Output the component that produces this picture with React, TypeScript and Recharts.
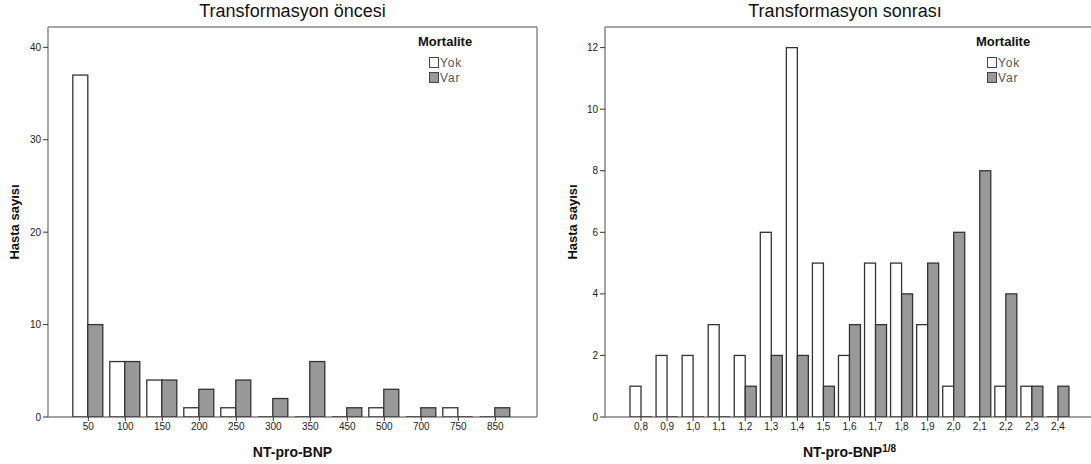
import React from "react";
import { Bar, BarChart, Legend, XAxis, YAxis } from "recharts";

const leftCategories = ["50", "100", "150", "200", "250", "300", "350", "450", "500", "700", "750", "850"];
const leftYok = [37, 6, 4, 1, 1, 0, 0, 0, 1, 0, 1, 0];
const leftVar = [10, 6, 4, 3, 4, 2, 6, 1, 3, 1, 0, 1];
const leftTicks = [0, 10, 20, 30, 40];

const rightCategories = ["0,8", "0,9", "1,0", "1,1", "1,2", "1,3", "1,4", "1,5", "1,6", "1,7", "1,8", "1,9", "2,0", "2,1", "2,2", "2,3", "2,4"];
const rightYok = [1, 2, 2, 3, 2, 6, 12, 5, 2, 5, 5, 3, 1, 0, 1, 1, 0];
const rightVar = [0, 0, 0, 0, 1, 2, 2, 1, 3, 3, 4, 5, 6, 8, 4, 1, 1];
const rightTicks = [0, 2, 4, 6, 8, 10, 12];

const groups = ["Yok", "Var"];
const groupColors = ["#ffffff", "#999999"];

const FONT = "'Liberation Sans', Arial, sans-serif";
const PLOT_W = 489;

function toRows(cats: string[], yok: number[], vr: number[]) {
  return cats.map((c, i) => ({ cat: c, Yok: yok[i], Var: vr[i] }));
}

// zero-height bars still show as a short dark line on the axis
function BarShape(props: any) {
  const { x, y, width, height, fill } = props;
  if (!height) {
    return <line x1={x} x2={x + width} y1={y} y2={y} stroke="#333" strokeWidth={1.5} />;
  }
  return <rect x={x} y={y} width={width} height={height} fill={fill} stroke="#333" strokeWidth={1.3} />;
}

function LegendBox() {
  return (
    <div style={{ fontFamily: FONT }}>
      <div style={{ fontWeight: "bold", fontSize: 13, color: "#111", lineHeight: "16px" }}>Mortalite</div>
      <div style={{ marginLeft: 11, marginTop: 5 }}>
        {groups.map((g, i) => (
          <div key={g} style={{ display: "flex", alignItems: "center", height: 15 }}>
            <span
              style={{
                display: "inline-block",
                width: 8,
                height: 9,
                border: "1px solid #444",
                background: groupColors[i],
                marginRight: 1,
              }}
            />
            <span style={{ fontSize: 12, color: "#555", letterSpacing: 0.8 }}>{g}</span>
          </div>
        ))}
      </div>
    </div>
  );
}

function XTitle(props: any) {
  const { viewBox, sup } = props;
  const cx = viewBox.x + viewBox.width / 2;
  return (
    <text x={cx} y={457} textAnchor="middle" fontFamily={FONT} fontWeight="bold" fontSize={14} fill="#111">
      <tspan>NT-pro-BNP</tspan>
      {sup ? (
        <tspan fontSize={10} dy={-5}>
          {sup}
        </tspan>
      ) : null}
    </text>
  );
}

interface PanelProps {
  rows: { cat: string; Yok: number; Var: number }[];
  ticks: number[];
  yMax: number;
  padL: number;
  padR: number;
  gap: number;
  width: number;
  yWidth: number;
  yTitleX: number;
  legendLeft: number;
  sup?: string;
}

function Panel({ rows, ticks, yMax, padL, padR, gap, width, yWidth, yTitleX, legendLeft, sup }: PanelProps) {
  const frame = { stroke: "#888", strokeWidth: 1.5 };
  return (
    <BarChart
      width={width}
      height={464}
      data={rows}
      margin={{ top: 26, right: width - PLOT_W - yWidth - 1, left: 0, bottom: 0 }}
      barCategoryGap={gap}
      barGap={0}
    >
      <XAxis
        dataKey="cat"
        height={47}
        padding={{ left: padL, right: padR }}
        tick={{ fontSize: 10, fill: "#222", fontFamily: FONT }}
        tickSize={4}
        tickLine={{ stroke: "#333" }}
        axisLine={{ stroke: "#444" }}
        interval={0}
        label={<XTitle sup={sup} />}
      />
      {/* top and right axes only draw the frame of the plot */}
      <XAxis
        xAxisId="top"
        dataKey="cat"
        orientation="top"
        height={1}
        padding={{ left: padL, right: padR }}
        tick={false}
        tickLine={false}
        axisLine={frame}
      />
      <YAxis
        width={yWidth}
        domain={[0, yMax]}
        allowDataOverflow
        ticks={ticks}
        tick={{ fontSize: 10, fill: "#222", fontFamily: FONT }}
        tickSize={5}
        tickLine={{ stroke: "#333" }}
        axisLine={frame}
        label={{
          value: "Hasta sayısı",
          angle: -90,
          position: "insideLeft",
          offset: yTitleX,
          style: { textAnchor: "middle", fontFamily: FONT, fontWeight: "bold", fontSize: 13, fill: "#111" },
        }}
      />
      <YAxis
        yAxisId="r"
        orientation="right"
        width={1}
        domain={[0, yMax]}
        allowDataOverflow
        tick={false}
        tickLine={false}
        axisLine={frame}
      />
      <Bar dataKey="Yok" fill={groupColors[0]} shape={BarShape} isAnimationActive={false} />
      <Bar dataKey="Var" fill={groupColors[1]} shape={BarShape} isAnimationActive={false} />
      <Bar dataKey="Yok" xAxisId="top" yAxisId="r" fill="none" shape={() => <g />} legendType="none" isAnimationActive={false} />
      <Legend
        layout="horizontal"
        verticalAlign="middle"
        content={() => <LegendBox />}
        wrapperStyle={{ position: "absolute", left: legendLeft, top: 34, width: "auto", height: "auto" }}
      />
    </BarChart>
  );
}

export default function App() {
  return (
    <div style={{ position: "absolute", left: 0, top: 0, width: 1091, height: 464, overflow: "hidden", background: "#fff" }}>
      <div style={{ position: "absolute", left: 0, top: 0 }}>
        <Panel
          rows={toRows(leftCategories, leftYok, leftVar)}
          ticks={leftTicks}
          yMax={42.2}
          padL={21.8}
          padR={23.2}
          gap={3}
          width={545}
          yWidth={48}
          yTitleX={14}
          legendLeft={418}
        />
      </div>
      <div style={{ position: "absolute", left: 545, top: 0 }}>
        <Panel
          rows={toRows(rightCategories, rightYok, rightVar)}
          ticks={rightTicks}
          yMax={12.67}
          padL={23}
          padR={23}
          gap={2}
          width={560}
          yWidth={60}
          yTitleX={27}
          legendLeft={431}
          sup="1/8"
        />
      </div>
      <div style={{ position: "absolute", left: 48, width: 489, top: 1, textAlign: "center", fontFamily: FONT, fontSize: 18, color: "#111" }}>
        Transformasyon öncesi
      </div>
      <div style={{ position: "absolute", left: 605, width: 480, top: 1, textAlign: "center", fontFamily: FONT, fontSize: 18, color: "#111" }}>
        Transformasyon sonrası
      </div>
    </div>
  );
}
